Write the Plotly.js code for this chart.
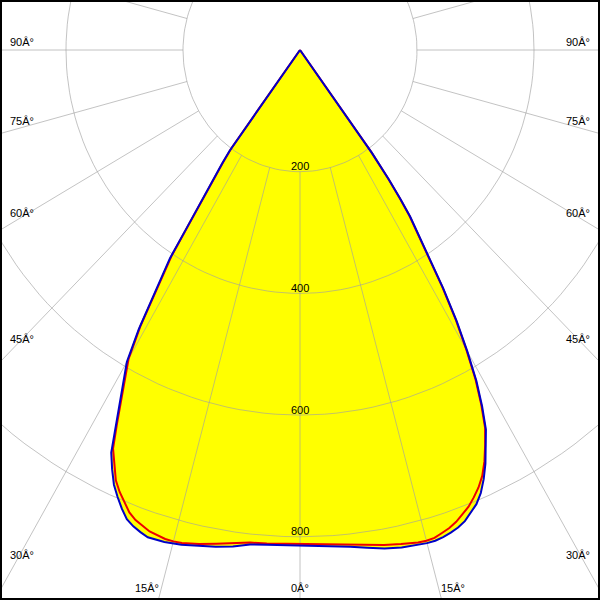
<!DOCTYPE html>
<html><head><meta charset="utf-8">
<script src="https://cdn.plot.ly/plotly-3.0.1.min.js"></script>
<style>html,body{margin:0;padding:0;background:#fff}</style>
</head><body><div id="chart" style="width:600px;height:600px"></div>
<script>
// Polar angle gamma (deg, 0 = straight down, negative = left) and luminous intensity (cd)
const gammaDeg = [-37,-36,-35.5,-35,-34.5,-34,-33.5,-33,-32,-31,-30,-29,-28,-27,-26,-25,-24,-23,-22,-21,-20,-19,-18,-16,-15,-14,-12,-10,-8,-6,-4,-2,0,2,4,6,8,10,12,14,15,16,17,18,19,20,21,22,23,24,25,26,27,28,29,30,31,32,33,33.5,34,34.5,35,35.5,36,37];
const intensityBlue = [0,205,230,254,280,312,352,408,466,535,592,622,656,695,736,760,782,798,813,826,833,838,842,841,839,838,833,829,824,817,815,814,814,815,818,821,826,832,836,838,839,839,837,834,830,824,815,805,791,772,750,725,700,663,622,572,520,462,400,380,360,333,300,262,210,0];
const intensityRed  = [0,200,226,250,276,307,347,402,460,530,586,617,650,689,729,752,774,789,802,814,822,827,832,836,836,835,830,824,819,814,813,812,812,813,815,818,822,826,830,834,835,834,830,826,820,812,804,793,781,766,746,722,697,660,619,569,517,459,397,377,357,330,297,259,207,0];

// Grid
const ringValues = [200,400,600,800];
const ringLabels = ['200','400','600','800'];
const spokeAngles = [0,15,30,45,60,75,90,105,120,135,150,165,180,195,210,225,240,255,270,285,300,315,330,345];
const angleLabelValues = [-90,-75,-60,-45,-30,-15,0,15,30,45,60,75,90];
const angleLabelText = ['90\u00C2\u00B0','75\u00C2\u00B0','60\u00C2\u00B0','45\u00C2\u00B0','30\u00C2\u00B0','15\u00C2\u00B0','0\u00C2\u00B0','15\u00C2\u00B0','30\u00C2\u00B0','45\u00C2\u00B0','60\u00C2\u00B0','75\u00C2\u00B0','90\u00C2\u00B0'];

const W = 600, H = 600, CX = 300, CY = 50;
const SX = 0.585, SY = 0.6085; // px per cd
const xRange = [-CX / SX, (W - CX) / SX];
const yRange = [-(H - CY) / SY, CY / SY];
const rad = d => d * Math.PI / 180;
const px = g => Math.sin(rad(g));
const py = g => -Math.cos(rad(g));

function curve(I) {
  return { x: gammaDeg.map((g, i) => I[i] * px(g)), y: gammaDeg.map((g, i) => I[i] * py(g)) };
}
const blue = curve(intensityBlue), red = curve(intensityRed);

const gx = [], gy = [];
ringValues.forEach(r => {
  for (let a = 0; a <= 360; a += 2) { gx.push(r * px(a)); gy.push(r * py(a)); }
  gx.push(null); gy.push(null);
});
spokeAngles.forEach(a => {
  gx.push(ringValues[0] * px(a), 1600 * px(a), null);
  gy.push(ringValues[0] * py(a), 1600 * py(a), null);
});

const traces = [
  { x: blue.x, y: blue.y, mode: 'lines', fill: 'toself', fillcolor: '#ffff00', line: { width: 0 }, hoverinfo: 'skip' },
  { x: gx, y: gy, mode: 'lines', line: { color: 'rgba(160,160,160,0.63)', width: 1 }, hoverinfo: 'skip' },
  { x: red.x, y: red.y, mode: 'lines', line: { color: '#ee0000', width: 2 }, hoverinfo: 'skip' },
  { x: blue.x, y: blue.y, mode: 'lines', line: { color: '#0000c8', width: 2 }, hoverinfo: 'skip' }
];

const font = { family: 'Liberation Sans, Arial, sans-serif', size: 11, color: '#000' };
const annotations = [];
ringValues.forEach((r, i) => annotations.push({
  x: 0, y: -r, xref: 'x', yref: 'y', text: ringLabels[i], showarrow: false,
  xanchor: 'center', yanchor: 'middle', yshift: 5.5, font
}));
const sideX = 278 / SX;           // label centre distance from axis (cd units)
const bottomY = -(538 / SY);      // bottom label centre line (cd units)
angleLabelValues.forEach((g, i) => {
  const a = Math.abs(g);
  let yAtSide = a > 0 ? -sideX / Math.tan(rad(a)) : -Infinity;
  if (a > 0 && yAtSide >= bottomY) {
    annotations.push({ x: Math.sign(g) * sideX, y: yAtSide, xref: 'x', yref: 'y', text: angleLabelText[i],
      showarrow: false, xanchor: 'center', yanchor: 'middle', yshift: 8 * Math.cos(rad(2 * (90 - a))), font });
  } else {
    const xb = -bottomY * Math.tan(rad(g));
    annotations.push({ x: xb, y: bottomY, xref: 'x', yref: 'y', text: angleLabelText[i], showarrow: false,
      xanchor: g < 0 ? 'right' : (g > 0 ? 'left' : 'center'), yanchor: 'middle', font });
  }
});

const layout = {
  width: W, height: H, margin: { l: 0, r: 0, t: 0, b: 0 },
  paper_bgcolor: '#fff', plot_bgcolor: '#fff', showlegend: false,
  xaxis: { range: xRange, visible: false, fixedrange: true },
  yaxis: { range: yRange, visible: false, fixedrange: true },
  annotations,
  shapes: [{ type: 'rect', xref: 'paper', yref: 'paper', x0: 0, x1: 1, y0: 0, y1: 1, line: { color: '#000', width: 4 } }]
};
Plotly.newPlot('chart', traces, layout, { staticPlot: true, displayModeBar: false });
</script></body></html>
